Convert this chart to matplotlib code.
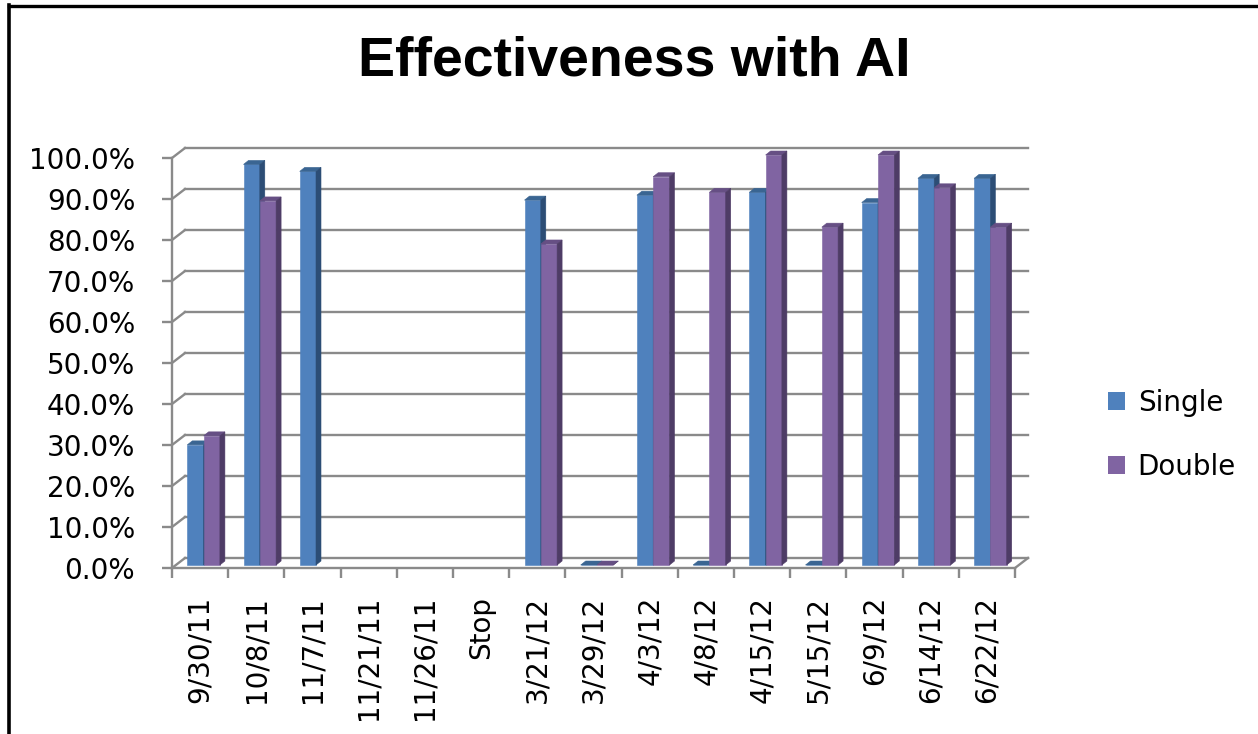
# effectiveness_chart.py
# Clustered 3-D style column chart: effectiveness of single vs double AI

import numpy as np
import matplotlib
matplotlib.use("Agg")
import matplotlib.pyplot as plt
from matplotlib.patches import Polygon, Patch
from matplotlib.lines import Line2D
from matplotlib.ticker import FuncFormatter

# ----------------------------------------------------
# Data
# ----------------------------------------------------
categories = ["9/30/11", "10/8/11", "11/7/11", "11/21/11", "11/26/11", "Stop",
              "3/21/12", "3/29/12", "4/3/12", "4/8/12", "4/15/12", "5/15/12",
              "6/9/12", "6/14/12", "6/22/12"]
single = [0.293, 0.977, 0.960, np.nan, np.nan, np.nan, 0.890, 0.0, 0.902,
          0.0, 0.909, 0.0, 0.884, 0.943, 0.943]
double = [0.315, 0.888, np.nan, np.nan, np.nan, np.nan, 0.783, 0.0, 0.947,
          0.909, 1.0, 0.824, 1.0, 0.920, 0.824]
y_ticks = [0.0, 0.1, 0.2, 0.3, 0.4, 0.5, 0.6, 0.7, 0.8, 0.9, 1.0]

# colours: front face, top face, side face
single_cols = ("#4F81BD", "#3A6592", "#2C4D75")
double_cols = ("#8064A2", "#664F84", "#4E3C66")
grid_col = "#8A8A8A"

# ----------------------------------------------------
# Figure / front plane of the plot area (pixel layout)
# ----------------------------------------------------
W, H = 1258, 734
fig = plt.figure(figsize=(W / 100, H / 100), dpi=100)

left_px, right_px = 172, 1015
bottom_px, top_px = 568, 158
ax = fig.add_axes([left_px / W, 1 - bottom_px / H,
                   (right_px - left_px) / W, (bottom_px - top_px) / H])

n = len(categories)
ax.set_xlim(-0.5, n - 0.5)
ax.set_ylim(0, 1)

# data units per pixel, used for the fake depth
ux = n / (right_px - left_px)
uy = 1.0 / (bottom_px - top_px)

wall_dx, wall_dy = 13 * ux, 10 * uy     # back wall offset
bar_ox, bar_oy = 3.5 * ux, 3 * uy       # bars sit a little behind the front
dep_dx, dep_dy = 5 * ux, 4 * uy         # bar depth
bar_w = 0.29

# back wall gridlines + left wall diagonals
for t in y_ticks:
    ax.plot([-0.5 + wall_dx, n - 0.5 + wall_dx], [t + wall_dy, t + wall_dy],
            color=grid_col, lw=1.7, clip_on=False, zorder=1)
    ax.plot([-0.5, -0.5 + wall_dx], [t, t + wall_dy],
            color=grid_col, lw=1.7, clip_on=False, zorder=1)
# right edge of the floor
ax.plot([n - 0.5, n - 0.5 + wall_dx], [0, wall_dy],
        color=grid_col, lw=1.7, clip_on=False, zorder=1)


def draw_bar(x0, v, cols, z):
    if np.isnan(v):
        return
    front, top, side = cols
    x0 = x0 + bar_ox
    x1 = x0 + bar_w
    y0 = bar_oy
    y1 = v + bar_oy
    kw = dict(lw=0.4, clip_on=False, zorder=z)
    ax.add_patch(Polygon([(x0, y0), (x1, y0), (x1, y1), (x0, y1)],
                         fc=front, ec=front, **kw))
    ax.add_patch(Polygon([(x0, y1), (x1, y1), (x1 + dep_dx, y1 + dep_dy),
                          (x0 + dep_dx, y1 + dep_dy)], fc=top, ec=top, **kw))
    ax.add_patch(Polygon([(x1, y0), (x1 + dep_dx, y0 + dep_dy),
                          (x1 + dep_dx, y1 + dep_dy), (x1, y1)],
                         fc=side, ec=side, **kw))


z = 3
for i in range(n):
    draw_bar(i - bar_w, single[i], single_cols, z)
    draw_bar(i, double[i], double_cols, z + 1)
    z += 2

# ----------------------------------------------------
# Axes, ticks
# ----------------------------------------------------
for s in ["top", "right"]:
    ax.spines[s].set_visible(False)
for s in ["left", "bottom"]:
    ax.spines[s].set_color(grid_col)
    ax.spines[s].set_linewidth(1.7)
    ax.spines[s].set_zorder(2)

ax.set_yticks(y_ticks)
ax.yaxis.set_major_formatter(FuncFormatter(lambda v, p: f"{v:.1%}"))
ax.tick_params(axis="y", direction="out", length=7.5, width=1.7,
               color=grid_col, pad=19, labelsize=20)

ax.set_xticks(np.arange(n + 1) - 0.5)
ax.set_xticklabels([])
ax.set_xticks(np.arange(n), minor=True)
ax.set_xticklabels(categories, minor=True, rotation=90)
ax.tick_params(axis="x", which="major", direction="out", length=7.5,
               width=1.7, color=grid_col)
ax.tick_params(axis="x", which="minor", length=0, pad=20, labelsize=20)

# ----------------------------------------------------
# Title, legend, border
# ----------------------------------------------------
fig.text(634 / W, 1 - 76 / H, "Effectiveness with AI", ha="center",
         va="baseline", fontsize=40, fontweight="bold",
         family="Liberation Sans")

handles = [Patch(fc=single_cols[0]), Patch(fc=double_cols[0])]
fig.legend(handles, ["Single", "Double"], loc="center left",
           bbox_to_anchor=(1108 / W, 1 - 435 / H), frameon=False,
           fontsize=20, handlelength=0.62, handleheight=0.62,
           handletextpad=0.45, labelspacing=1.3, borderpad=0,
           borderaxespad=0)

fig.add_artist(Line2D([9 / W, 9 / W], [0, 1 - 5 / H], transform=fig.transFigure,
                      color="black", lw=2.6))
fig.add_artist(Line2D([9 / W, 1], [1 - 6 / H, 1 - 6 / H],
                      transform=fig.transFigure, color="black", lw=2.4))

fig.savefig("out.png", dpi=100)
plt.close(fig)
print("saved out.png")
